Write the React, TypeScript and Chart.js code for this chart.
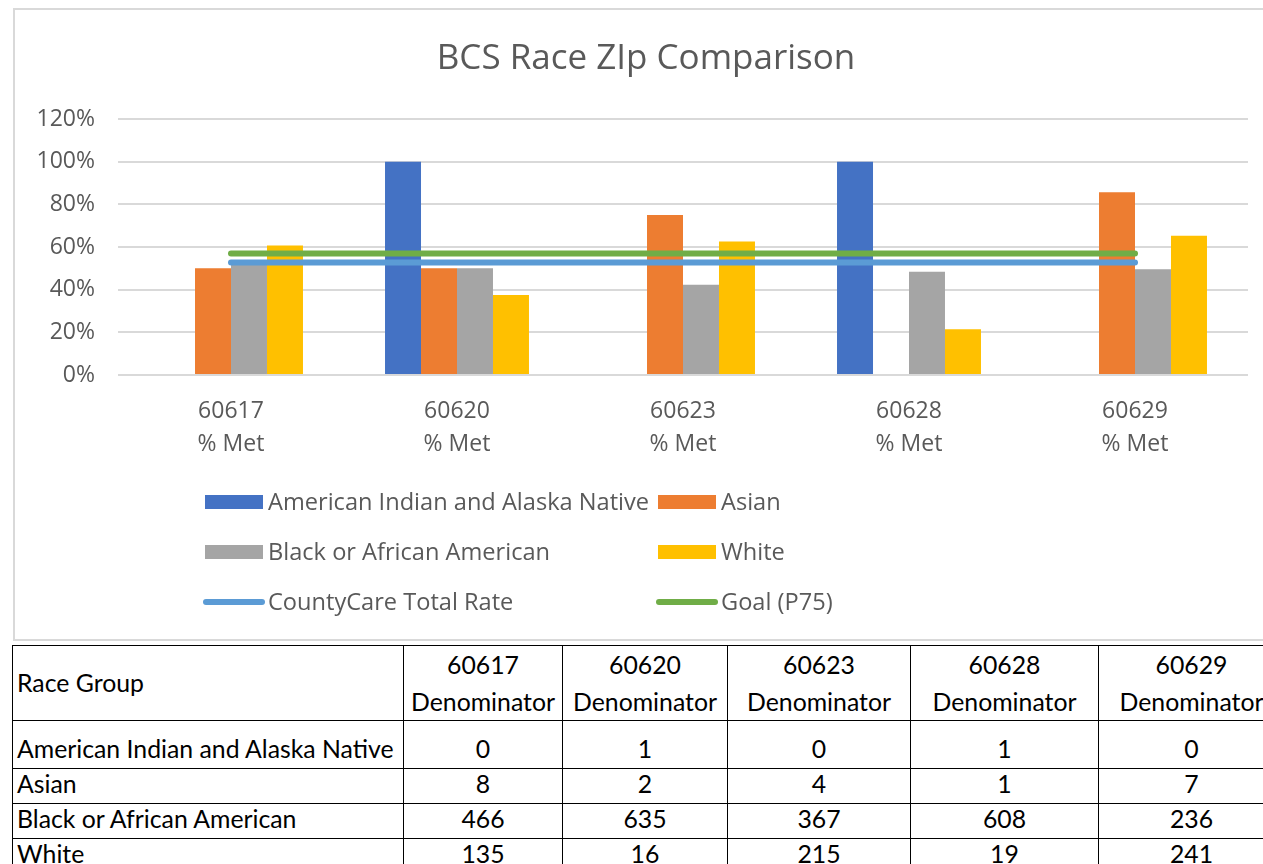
import React, { useEffect, useRef } from 'react';
import { Chart, registerables } from 'chart.js';
Chart.register(...registerables);

// ---- data ----
const zips = ['60617', '60620', '60623', '60628', '60629'];
const metLabel = '% Met';
const seriesNames = [
  'American Indian and Alaska Native',
  'Asian',
  'Black or African American',
  'White',
  'CountyCare Total Rate',
  'Goal (P75)',
];
const aianMet = [null, 1.0, null, 1.0, null];
const asianMet = [0.5, 0.5, 0.75, 0, 0.857];
const blackMet = [0.53, 0.5, 0.423, 0.484, 0.496];
const whiteMet = [0.607, 0.375, 0.626, 0.214, 0.653];
const countyCareRate = [0.527, 0.527, 0.527, 0.527, 0.527];
const goalP75 = [0.57, 0.57, 0.57, 0.57, 0.57];
const yMin = 0;
const yMax = 1.2;
const yStep = 0.2;

const tableHeaderFirst = 'Race Group';
const denomLabel = 'Denominator';
const raceGroups = ['American Indian and Alaska Native', 'Asian', 'Black or African American', 'White'];
const denomAian = [0, 1, 0, 1, 0];
const denomAsian = [8, 2, 4, 1, 7];
const denomBlack = [466, 635, 367, 608, 236];
const denomWhite = [135, 16, 215, 19, 241];
const denomRows = [denomAian, denomAsian, denomBlack, denomWhite];

const COLORS = ['#4472C4', '#ED7D31', '#A5A5A5', '#FFC000', '#5B9BD5', '#70AD47'];
const TEXT = '#595959';
const FONT = "'Open Sans', sans-serif";

const gridLegend = {
  id: 'gridLegend',
  afterDraw(chart: any) {
    const ctx = chart.ctx;
    const base = chart.chartArea.bottom;
    const rowOffsets = [127, 177, 227];
    const colX = [190, 643];
    ctx.save();
    ctx.font = `23.6px ${FONT}`;
    ctx.textBaseline = 'middle';
    ctx.textAlign = 'left';
    chart.data.datasets.forEach((ds: any, i: number) => {
      const row = Math.floor(i / 2);
      const col = i % 2;
      const x = colX[col];
      const y = base + rowOffsets[row];
      if (ds.type === 'line') {
        ctx.strokeStyle = ds.borderColor;
        ctx.lineWidth = 6;
        ctx.lineCap = 'round';
        ctx.beginPath();
        ctx.moveTo(x + 1, y);
        ctx.lineTo(x + 57, y);
        ctx.stroke();
      } else {
        ctx.fillStyle = ds.backgroundColor;
        ctx.fillRect(x, y - 7, 58, 14);
      }
      ctx.fillStyle = TEXT;
      ctx.fillText(ds.label, x + 63, y + 1);
    });
    ctx.restore();
  },
};

function ChartBox() {
  const ref = useRef<HTMLCanvasElement | null>(null);
  useEffect(() => {
    if (!ref.current) return;
    const barSets = [aianMet, asianMet, blackMet, whiteMet].map((d, i) => ({
      type: 'bar' as const,
      label: seriesNames[i],
      data: d,
      backgroundColor: COLORS[i],
      borderWidth: 0,
      categoryPercentage: 0.637,
      barPercentage: 1,
      order: 2,
    }));
    const lineSets = [countyCareRate, goalP75].map((d, i) => ({
      type: 'line' as const,
      label: seriesNames[4 + i],
      data: d,
      borderColor: COLORS[4 + i],
      backgroundColor: COLORS[4 + i],
      borderWidth: 6,
      borderCapStyle: 'round' as const,
      pointRadius: 0,
      fill: false,
      order: 1,
    }));
    const chart = new Chart(ref.current, {
      type: 'bar',
      data: {
        labels: zips.map((z) => [z, metLabel]),
        datasets: [...barSets, ...lineSets] as any,
      },
      options: {
        responsive: false,
        animation: false,
        layout: { padding: { left: 0, right: 0, top: 0, bottom: 0 } },
        plugins: {
          legend: { display: false },
          tooltip: { enabled: false },
          title: {
            display: true,
            text: 'BCS Race ZIp Comparison',
            color: TEXT,
            font: { family: FONT, size: 35, weight: 'normal', lineHeight: 1.2 },
            padding: { top: 28, bottom: 39 },
          },
        },
        scales: {
          x: {
            grid: { display: false },
            border: { display: false },
            ticks: {
              color: TEXT,
              font: { family: FONT, size: 23, lineHeight: '33px' },
              padding: 12,
              maxRotation: 0,
            },
            afterFit: (s: any) => {
              s.height = 264;
            },
          },
          y: {
            min: yMin,
            max: yMax,
            border: { display: false },
            grid: { color: '#d9d9d9', lineWidth: 2, drawTicks: false },
            ticks: {
              stepSize: yStep,
              color: TEXT,
              padding: 23,
              font: { family: FONT, size: 23 },
              callback: (v: any) => `${Math.round(Number(v) * 100)}%`,
            },
            afterFit: (s: any) => {
              s.width = 103;
            },
          },
          yRight: {
            position: 'right',
            display: true,
            min: yMin,
            max: yMax,
            border: { display: false },
            grid: { display: false, drawTicks: false },
            ticks: { display: false },
            afterFit: (s: any) => {
              s.width = 29;
            },
          },
        },
      },
      plugins: [gridLegend],
    });
    return () => chart.destroy();
  }, []);
  return (
    <canvas
      ref={ref}
      width={1262}
      height={629}
      style={{ position: 'absolute', left: 15, top: 10, width: 1262, height: 629 }}
    />
  );
}

const cellBorder = '1px solid #000';
const colWidths = [391, 159, 165, 183, 188, 186];

export default function App() {
  return (
    <div
      style={{
        position: 'fixed',
        left: 0,
        top: 0,
        width: 1263,
        height: 864,
        overflow: 'hidden',
        background: '#fff',
      }}
    >
      <div
        style={{
          position: 'absolute',
          left: 13,
          top: 8,
          width: 1270,
          height: 629,
          border: '2px solid #d9d9d9',
        }}
      />
      <ChartBox />
      <table
        style={{
          position: 'absolute',
          left: 12,
          top: 645,
          borderCollapse: 'collapse',
          tableLayout: 'fixed',
          width: colWidths.reduce((a, b) => a + b, 0),
          fontFamily: "Lato, 'Open Sans', sans-serif",
          fontSize: 24.8,
          color: '#000',
        }}
      >
        <colgroup>
          {colWidths.map((w, i) => (
            <col key={i} style={{ width: w }} />
          ))}
        </colgroup>
        <tbody>
          <tr style={{ height: 71 }}>
            <td style={{ border: cellBorder, padding: '0 4px', verticalAlign: 'middle', lineHeight: '30px' }}>
              {tableHeaderFirst}
            </td>
            {zips.map((z) => (
              <td
                key={z}
                style={{ border: cellBorder, padding: 0, textAlign: 'center', lineHeight: '37px', whiteSpace: 'nowrap' }}
              >
                {z}
                <br />
                {denomLabel}
              </td>
            ))}
          </tr>
          {raceGroups.map((g, r) => (
            <tr key={g} style={{ height: r === 0 ? 48 : 35 }}>
              <td
                style={{
                  border: cellBorder,
                  padding: '0 4px 5px 4px',
                  verticalAlign: 'bottom',
                  whiteSpace: 'nowrap',
                  lineHeight: '28px',
                }}
              >
                {g}
              </td>
              {denomRows[r].map((v, c) => (
                <td
                  key={c}
                  style={{
                    border: cellBorder,
                    padding: '0 0 5px 0',
                    textAlign: 'center',
                    verticalAlign: 'bottom',
                    lineHeight: '28px',
                  }}
                >
                  {v}
                </td>
              ))}
            </tr>
          ))}
        </tbody>
      </table>
    </div>
  );
}
